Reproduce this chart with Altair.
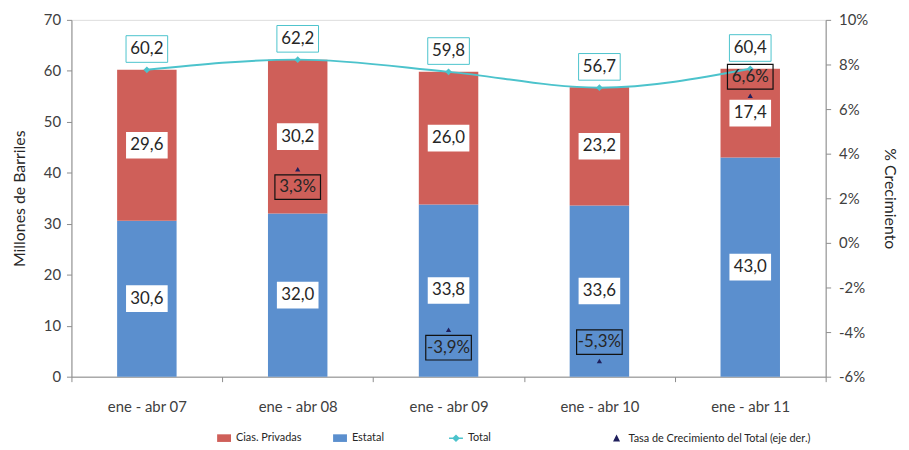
import altair as alt
import pandas as pd

cats = ["ene - abr 07", "ene - abr 08", "ene - abr 09", "ene - abr 10", "ene - abr 11"]
estatal = [30.6, 32.0, 33.8, 33.6, 43.0]
privadas = [29.6, 30.2, 26.0, 23.2, 17.4]
total = [60.2, 62.2, 59.8, 56.7, 60.4]
growth = [None, 3.3, -3.9, -5.3, 6.6]
growth_side = [None, "below", "below", "above", "above"]

RED = "#CF5F59"
BLUE = "#5B8FCE"
CYAN = "#4CC3CC"
NAVY = "#1F1F5C"
FONT = "Lato"
TXT = "#262626"

def fmt(v, suffix=""):
    return f"{v:.1f}".replace(".", ",") + suffix

# bars (long form)
rows = []
for c, e, p in zip(cats, estatal, privadas):
    rows.append({"cat": c, "serie": "Estatal", "value": e, "ord": 0, "mid": e / 2, "lab": fmt(e)})
    rows.append({"cat": c, "serie": "Cias. Privadas", "value": p, "ord": 1, "mid": e + p / 2, "lab": fmt(p)})
bars_df = pd.DataFrame(rows)

tot_df = pd.DataFrame({"cat": cats, "total": total, "lab": [fmt(t) for t in total]})

g_rows = []
for c, g, s in zip(cats, growth, growth_side):
    if g is None:
        continue
    g_rows.append({"cat": c, "g": g, "lab": fmt(g, "%"), "pos": g + (0.85 if s == "above" else -0.8)})
g_df = pd.DataFrame(g_rows)

leg_names = ["Total", "Tasa de Crecimiento del Total (eje der.)"]
leg_df = pd.DataFrame({"serie2": leg_names, "yy": [None, None]})

RECT = "M-1,-0.64L1,-0.64L1,0.64L-1,0.64Z"
RECT_P = "M-1,-0.55L1,-0.55L1,0.55L-1,0.55Z"

x_enc = alt.X("cat:N", sort=cats, title=None,
              scale=alt.Scale(paddingInner=0, paddingOuter=0),
              axis=alt.Axis(labelAngle=0, tickBand="extent", labelFontSize=15, labelFont=FONT,
                            labelColor="#404040", domainColor="#8c8c8c", tickColor="#8c8c8c",
                            tickSize=5, labelPadding=18))

yl_scale = alt.Scale(domain=[0, 70], nice=False)
yl_axis = alt.Axis(values=list(range(0, 71, 10)), title="Millones de Barriles", titleFontSize=16,
                   titleFont=FONT, titleFontWeight="normal", titleColor="#262626",
                   labelFontSize=15, labelFont=FONT, labelColor="#404040", domainColor="#8c8c8c",
                   tickColor="#8c8c8c", tickSize=5, grid=False, labelPadding=6, titlePadding=16)

yr_scale = alt.Scale(domain=[-6, 10], nice=False)
yr_axis = alt.Axis(values=list(range(-6, 11, 2)), labelExpr="datum.value + '%'", orient="right",
                   title="% Crecimiento", titleFontSize=16, titleFont=FONT, titleFontWeight="normal",
                   titleColor="#262626", labelFontSize=15, labelFont=FONT, labelColor="#404040",
                   domainColor="#8c8c8c", tickColor="#8c8c8c", tickSize=5, grid=False,
                   labelPadding=8, titlePadding=14)

bars = alt.Chart(bars_df).mark_bar(size=60).encode(
    x=x_enc,
    y=alt.Y("value:Q", stack="zero", scale=yl_scale, axis=yl_axis),
    color=alt.Color("serie:N", scale=alt.Scale(domain=["Cias. Privadas", "Estatal"], range=[RED, BLUE]),
                    legend=alt.Legend(orient="none", legendX=146, legendY=414, direction="horizontal",
                                      title=None, symbolType=RECT_P, symbolSize=196,
                                      labelFont=FONT, labelFontSize=11, labelColor="#262626",
                                      columnPadding=30, symbolOffset=0)),
    order=alt.Order("ord:Q"),
)

seg_box = alt.Chart(bars_df).mark_point(shape=RECT, size=1764, filled=True, fill="white",
                                        opacity=1, strokeWidth=0).encode(
    x=alt.X("cat:N", sort=cats), y=alt.Y("mid:Q", scale=yl_scale, axis=yl_axis))
seg_txt = alt.Chart(bars_df).mark_text(font=FONT, fontSize=17, color=TXT).encode(
    x=alt.X("cat:N", sort=cats), y=alt.Y("mid:Q", scale=yl_scale, axis=yl_axis), text="lab:N")

line = alt.Chart(tot_df).mark_line(color=CYAN, strokeWidth=2, interpolate="monotone").encode(
    x=alt.X("cat:N", sort=cats), y=alt.Y("total:Q", scale=yl_scale, axis=yl_axis))
pts = alt.Chart(tot_df).mark_point(shape="diamond", filled=True, color=CYAN, size=45, opacity=1).encode(
    x=alt.X("cat:N", sort=cats), y=alt.Y("total:Q", scale=yl_scale, axis=yl_axis))
tot_box = alt.Chart(tot_df).mark_point(shape=RECT, size=1764, filled=True, fill="white", stroke=CYAN,
                                       strokeWidth=1, opacity=1, yOffset=-21).encode(
    x=alt.X("cat:N", sort=cats), y=alt.Y("total:Q", scale=yl_scale, axis=yl_axis))
tot_txt = alt.Chart(tot_df).mark_text(font=FONT, fontSize=17, color=TXT, yOffset=-21).encode(
    x=alt.X("cat:N", sort=cats), y=alt.Y("total:Q", scale=yl_scale, axis=yl_axis), text="lab:N")

def leg2():
    return alt.Legend(orient="none", legendX=380, legendY=414, direction="horizontal",
                      title=None, symbolSize=196, labelFont=FONT, labelFontSize=11,
                      labelColor="#262626", columnPadding=118, symbolStrokeWidth=1.5,
                      labelLimit=400)

leg = alt.Chart(leg_df).mark_point(filled=True, opacity=1, strokeWidth=1.5).encode(
    y=alt.Y("yy:Q", scale=yl_scale, axis=yl_axis),
    fill=alt.Fill("serie2:N", scale=alt.Scale(domain=leg_names, range=[CYAN, NAVY]), legend=leg2()),
    stroke=alt.Stroke("serie2:N", scale=alt.Scale(domain=leg_names, range=[CYAN, NAVY]), legend=leg2()),
    shape=alt.Shape("serie2:N", scale=alt.Scale(domain=leg_names,
                                                range=["M-1,0L1,0M0,-0.4L0.4,0L0,0.4L-0.4,0Z",
                                                       "M0,-0.35L0.33,0.3L-0.33,0.3Z"]),
                    legend=leg2()),
)

left = alt.layer(bars, seg_box, seg_txt, line, pts, tot_box, tot_txt, leg)

tri = alt.Chart(g_df).mark_point(shape="triangle-up", filled=True, color=NAVY, size=28, opacity=1).encode(
    x=alt.X("cat:N", sort=cats), y=alt.Y("g:Q", scale=yr_scale, axis=yr_axis))
g_box = alt.Chart(g_df).mark_point(shape="M-1,-0.54L1,-0.54L1,0.54L-1,0.54Z", size=2116, filled=False,
                                   stroke="#111111", strokeWidth=1.2, opacity=1).encode(
    x=alt.X("cat:N", sort=cats), y=alt.Y("pos:Q", scale=yr_scale, axis=yr_axis))
g_txt = alt.Chart(g_df).mark_text(font=FONT, fontSize=17, color=TXT).encode(
    x=alt.X("cat:N", sort=cats), y=alt.Y("pos:Q", scale=yr_scale, axis=yr_axis), text="lab:N")

right = alt.layer(tri, g_box, g_txt)

chart = alt.layer(left, right).resolve_scale(y="independent").properties(
    width=761, height=360,
    padding={"left": 64, "top": 10, "right": 76, "bottom": 72},
    autosize=alt.AutoSizeParams(type="none"),
).configure_view(stroke=None).configure(background="white")

chart.save("out.html", embed_options={"renderer": "svg", "actions": False})
